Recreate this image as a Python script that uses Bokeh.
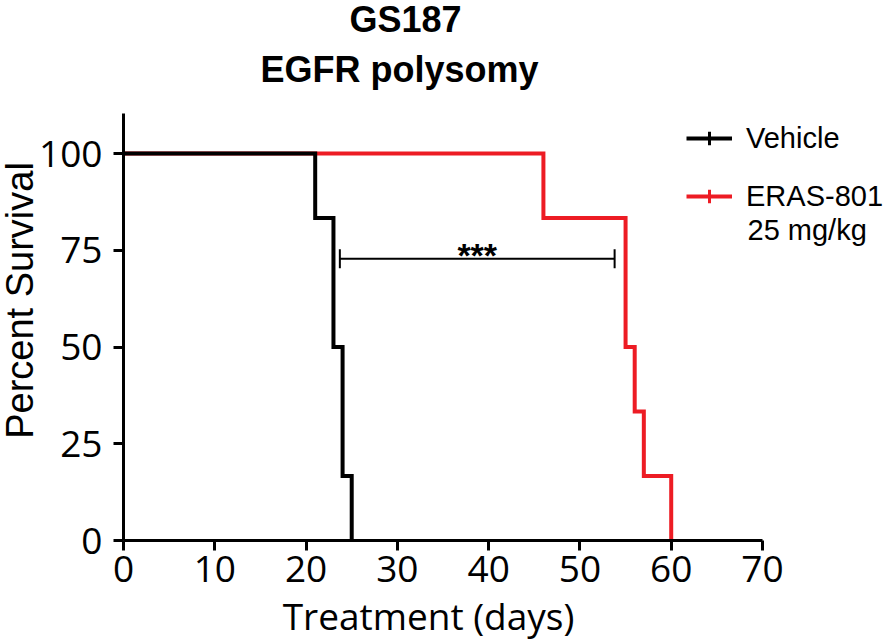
import math
from bokeh.plotting import figure
from bokeh.models import FixedTicker, Label, Legend, LegendItem, LinearAxis
from bokeh.embed import file_html
from bokeh.resources import INLINE

# ---- data ----
vehicle_days = [0, 21, 23, 24, 25]
vehicle_surv = [100, 83.33, 50, 16.67, 0]
eras_days = [0, 46, 55, 56, 57, 60]
eras_surv = [100, 83.33, 50, 33.33, 16.67, 0]
x_ticks = [0, 10, 20, 30, 40, 50, 60, 70]
y_ticks = [0, 25, 50, 75, 100]
sig_x = [23.7, 53.8]
sig_y = 72.8
sig_text = "***"
series_names = ["Vehicle", "ERAS-801"]
dose_text = "25 mg/kg"
title_lines = ["GS187", "EGFR polysomy"]
x_label = "Treatment (days)"
y_label = "Percent Survival"

BLACK = "#000000"
RED = "#ED1C24"

W, H = 889, 642
X0_PX, Y0_PX = 123.0, 540.0          # pixel position of the data origin
px_per_day = 639.0 / 70.0
px_per_pct = 387.0 / 100.0

def dx(px):
    return (px - X0_PX) / px_per_day

def dy(py):
    return (Y0_PX - py) / px_per_pct

p = figure(width=W, height=H, output_backend="svg", toolbar_location=None,
           x_range=(dx(0), dx(W)), y_range=(dy(H), dy(0)),
           x_axis_location=None, y_axis_location=None,
           min_border=0, min_border_left=0, min_border_right=0,
           min_border_top=0, min_border_bottom=0,
           background_fill_color="white", border_fill_color="white")
p.outline_line_color = None
p.grid.visible = False

xaxis = LinearAxis(fixed_location=0, bounds=(0, 70), ticker=FixedTicker(ticks=x_ticks))
yaxis = LinearAxis(fixed_location=0, bounds=(0, dy(113)), ticker=FixedTicker(ticks=y_ticks))
for ax in (xaxis, yaxis):
    ax.axis_line_width = 3
    ax.axis_line_color = "black"
    ax.major_tick_line_width = 3
    ax.major_tick_line_color = "black"
    ax.major_tick_out = 10
    ax.major_tick_in = 0
    ax.minor_tick_line_color = None
    ax.major_label_text_font = "Open Sans"
    ax.major_label_text_font_size = "37px"
    ax.major_label_text_color = "black"
xaxis.major_label_standoff = 5
yaxis.major_label_standoff = 11
p.add_layout(xaxis, "below")
p.add_layout(yaxis, "left")

# ---- curves ----
r_eras = p.step(eras_days, eras_surv, mode="after", line_color=RED, line_width=4, line_join="miter")
r_veh = p.step(vehicle_days, vehicle_surv, mode="after", line_color=BLACK, line_width=4, line_join="miter")

# censor-tick glyphs used only for the legend swatches (no visible data points)
nan = float("nan")
t_veh = p.scatter(x=[nan], y=[nan], marker="cross", size=11,
                  line_color=BLACK, line_width=3)
t_eras = p.scatter(x=[nan], y=[nan], marker="cross", size=11,
                   line_color=RED, line_width=3)

# ---- significance bracket ----
cap = 2.45
p.segment(x0=[sig_x[0], sig_x[0], sig_x[1]], y0=[sig_y, sig_y - cap, sig_y - cap],
          x1=[sig_x[1], sig_x[0], sig_x[1]], y1=[sig_y, sig_y + cap, sig_y + cap],
          line_color="black", line_width=2)
p.add_layout(Label(x=(sig_x[0] + sig_x[1]) / 2, y=sig_y + 1.0, text=sig_text,
                   text_align="center", text_baseline="alphabetic",
                   text_font="Liberation Sans", text_font_style="bold",
                   text_font_size="34px", text_color="black"))

# ---- legend ----
legend = Legend(items=[LegendItem(label=series_names[0], renderers=[r_veh, t_veh]),
                       LegendItem(label=series_names[1], renderers=[r_eras, t_eras])],
                location=(686, H - 213), orientation="vertical",
                border_line_color=None, background_fill_alpha=0,
                padding=0, margin=0, spacing=24,
                glyph_width=46, glyph_height=34, label_height=34,
                label_standoff=14,
                label_text_font="Liberation Sans", label_text_font_size="29px",
                label_text_color="black")
p.add_layout(legend)
p.add_layout(Label(x=dx(747), y=dy(229), text=dose_text,
                   text_align="left", text_baseline="alphabetic",
                   text_font="Liberation Sans", text_font_size="29px", text_color="black"))

# ---- titles ----
p.add_layout(Label(x=dx(405), y=dy(19), text=title_lines[0],
                   text_align="center", text_baseline="alphabetic",
                   text_font="Liberation Sans", text_font_style="bold",
                   text_font_size="36px", text_color="black"))
p.add_layout(Label(x=dx(399), y=dy(69), text=title_lines[1],
                   text_align="center", text_baseline="alphabetic",
                   text_font="Liberation Sans", text_font_style="bold",
                   text_font_size="36px", text_color="black"))

# ---- axis labels ----
p.add_layout(Label(x=dx(428), y=dy(615), text=x_label,
                   text_align="center", text_baseline="alphabetic",
                   text_font="Open Sans", text_font_size="37px", text_color="black"))
p.add_layout(Label(x=dx(19), y=dy(300), text=y_label,
                   angle=math.pi / 2, text_align="center", text_baseline="alphabetic",
                   text_font="Liberation Sans", text_font_size="38px", text_color="black"))

open("out.html", "w").write(file_html(p, INLINE))
